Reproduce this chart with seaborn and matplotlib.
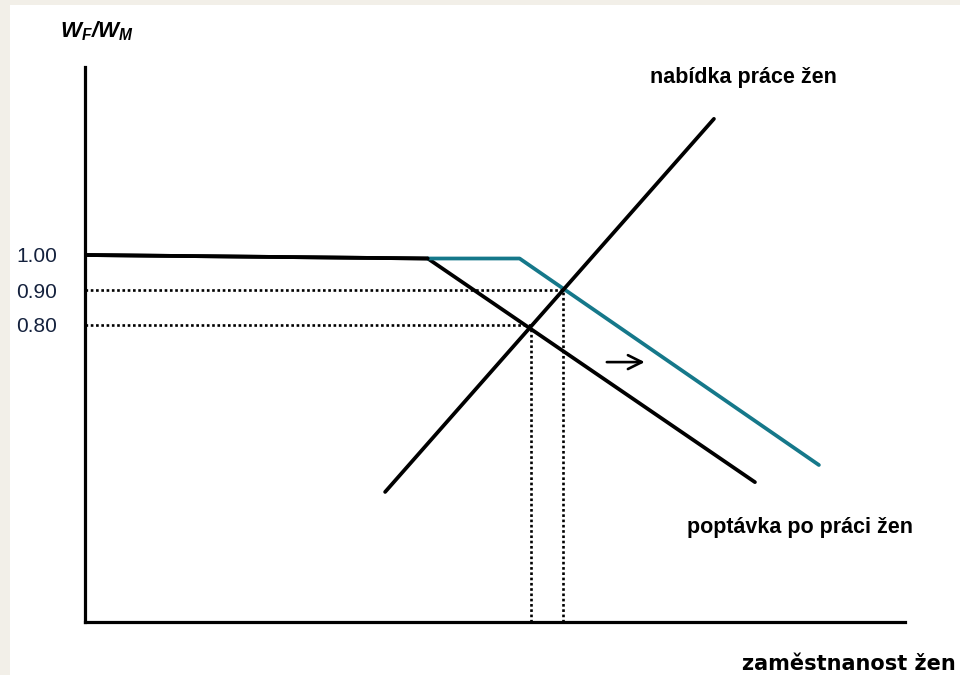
import matplotlib
matplotlib.use("Agg")
import matplotlib.pyplot as plt
import matplotlib.patches as patches
import seaborn as sns
import pandas as pd

# employment (arbitrary units 0-100) and wage ratio W_F/W_M
demand_x = [0.0, 41.8, 81.7]
demand_y = [1.00, 0.99, 0.351]
new_demand_x = [41.8, 53.0, 89.5]
new_demand_y = [0.99, 0.99, 0.40]
supply_x = [36.6, 76.7]
supply_y = [0.323, 1.389]
equil_x = [54.4, 58.3]
equil_y = [0.80, 0.90]
tick_values = [1.00, 0.90, 0.80]
tick_labels = ["1.00", "0.90", "0.80"]

sns.set_style("white")
plt.rcParams["font.family"] = ["Liberation Sans", "DejaVu Sans"]
plt.rcParams["text.color"] = "black"
plt.rcParams["mathtext.fontset"] = "custom"
plt.rcParams["mathtext.it"] = "Liberation Sans:italic:bold"
plt.rcParams["mathtext.rm"] = "Liberation Sans:italic:bold"
plt.rcParams["mathtext.bf"] = "Liberation Sans:bold"

fig = plt.figure(figsize=(9.6, 6.75), dpi=100, facecolor="#f2efe8")
fig.patches.append(patches.Rectangle((10 / 960, 0), 1, 670 / 675, transform=fig.transFigure,
                                     facecolor="white", edgecolor="none", zorder=-5))

ax = fig.add_axes([85 / 960, 53 / 675, 820 / 960, 555 / 675])
ax.set_zorder(2)
ax.set_facecolor("none")
ymin = 1 - 367 / 350
ymax = 1 + 188 / 350
ax.set_xlim(0, 100)
ax.set_ylim(ymin, ymax)

blue = "#15788a"
sns.lineplot(x=demand_x, y=demand_y, ax=ax, color="black", linewidth=2.7, sort=False)
sns.lineplot(x=new_demand_x, y=new_demand_y, ax=ax, color=blue, linewidth=2.7, sort=False)
ax.plot(demand_x[:2], demand_y[:2], color="black", linewidth=2.7, zorder=5)
sns.lineplot(x=supply_x, y=supply_y, ax=ax, color="black", linewidth=2.7,
             sort=False, solid_capstyle="round")

# dotted guides to the equilibria
for ex, ey in zip(equil_x, equil_y):
    ax.plot([0, ex], [ey, ey], color="black", linewidth=1.9, linestyle=(0, (1, 1)))
    ax.plot([ex, ex], [ymin, ey], color="black", linewidth=1.9, linestyle=(0, (1, 1)))

# shift arrow
ax.annotate("", xy=(68.6, 0.694), xytext=(63.3, 0.694),
            arrowprops=dict(arrowstyle="->", color="black", lw=1.9, mutation_scale=25))

for side in ["top", "right"]:
    ax.spines[side].set_visible(False)
for side in ["left", "bottom"]:
    ax.spines[side].set_linewidth(2.3)
    ax.spines[side].set_color("black")

ax.set_xticks([])
ax.set_yticks(tick_values)
ax.set_yticklabels(tick_labels, fontsize=15, color="#14213d")
ax.tick_params(axis="y", length=0, pad=20)

fig.text(60 / 960, 1 - 37 / 675, r"$W_F/W_M$", fontsize=16, ha="left", va="baseline")
fig.text(650 / 960, 1 - 77 / 675, "nabídka práce žen", fontsize=15.5, fontweight="bold",
         ha="left", va="center")
fig.text(687 / 960, 1 - 528 / 675, "poptávka po práci žen", fontsize=15.5, fontweight="bold",
         ha="left", va="center")
fig.text(956 / 960, 5 / 675, "zaměstnanost žen", fontsize=15, fontweight="bold",
         family="DejaVu Sans", ha="right", va="baseline")

fig.savefig("out.png", dpi=100, facecolor=fig.get_facecolor())
